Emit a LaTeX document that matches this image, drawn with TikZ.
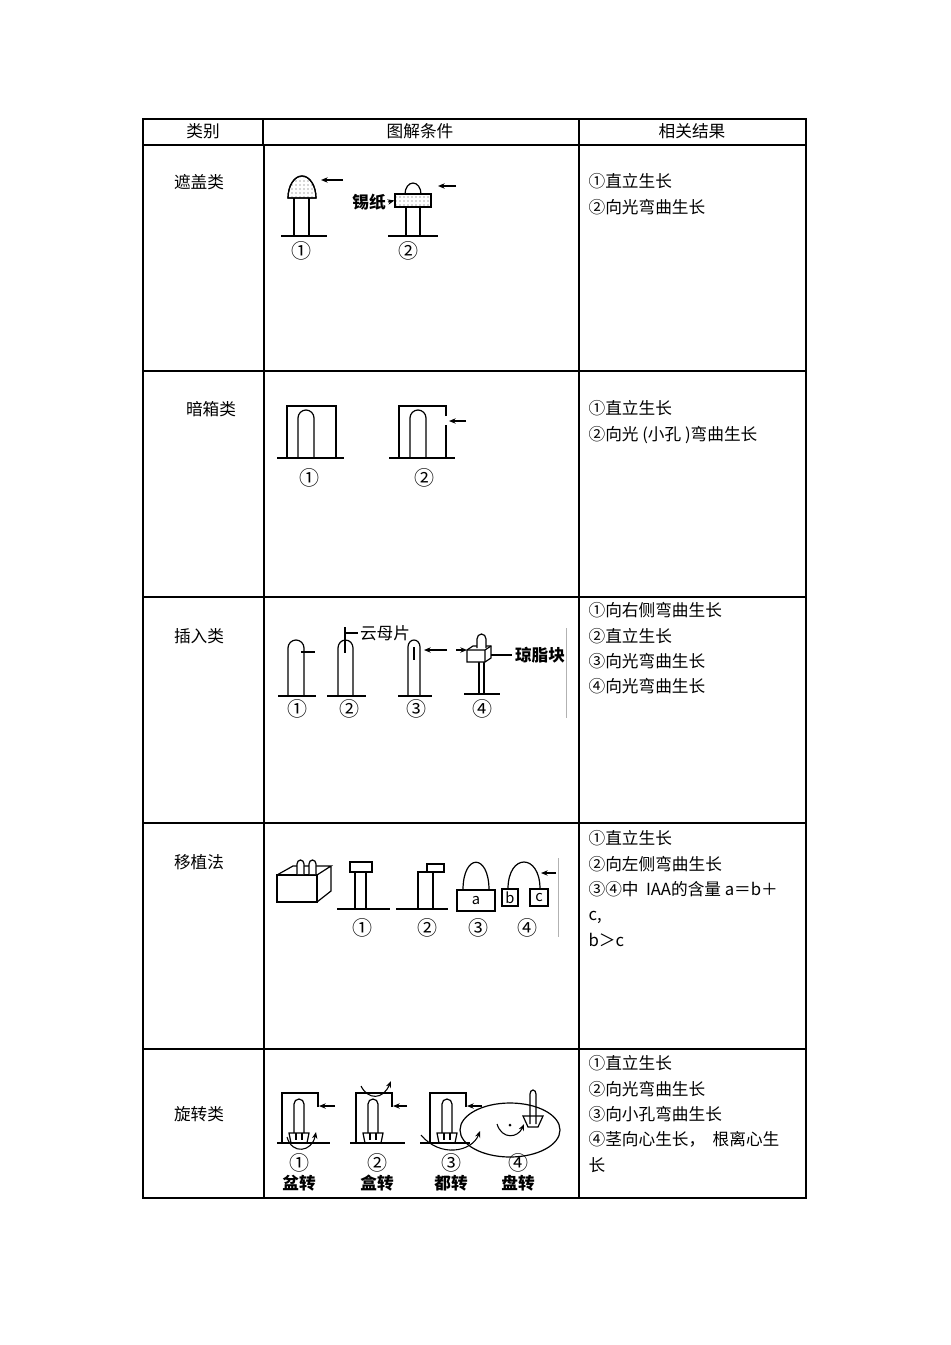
\documentclass[tikz,border=0pt]{standalone}
\usepackage{fontspec}
\setmainfont{Noto Sans CJK SC}
\usetikzlibrary{arrows.meta,patterns}
\begin{document}
\begin{tikzpicture}[x=0.75pt,y=-0.75pt,line width=0.9pt,
  txt/.style={font=\fontsize{12.5}{19}\selectfont,inner sep=0pt},
  lbl/.style={font=\fontsize{15}{15}\selectfont,inner sep=0pt},
  blbl/.style={font=\fontsize{12.5}{15}\selectfont\bfseries,inner sep=0pt},
  res/.style={txt,anchor=west,align=left},
  arr/.style={-{Stealth[length=5pt,width=4pt]},line width=0.8pt},
  dots/.style={pattern=dots,pattern color=black!70},
  grid/.style={line width=0.8pt},
  thick2/.style={line width=1.6pt}]
\useasboundingbox (0,0) rectangle (950,1345);
% table
\draw[grid] (143,119) rectangle (806,1198);
\draw[grid] (143,145) -- (806,145);
\draw[grid] (579,119) -- (579,1198);
\draw[grid] (263,119) -- (263,145);
\draw[thick2] (264,146) -- (264,1198);
\draw[thick2] (143,371) -- (806,371);
\foreach \y in {597,823,1049} \draw[grid] (143,\y) -- (806,\y);
\node[txt] (h1) at (203,131) {类别};
\node[txt] (h2) at (420,131) {图解条件};
\node[txt] (h3) at (692,131) {相关结果};
% categories
\node[txt] (c1) at (199,182) {遮盖类};
\node[txt] (c2) at (211,409) {暗箱类};
\node[txt] (c3) at (199,636) {插入类};
\node[txt] (c4) at (199,862) {移植法};
\node[txt] (c5) at (199,1114) {旋转类};
% results
\node[res,anchor=north west] (r1) at (588,173) {①直立生长\\②向光弯曲生长};
\node[res,anchor=north west] (r2) at (588,400) {①直立生长\\②向光 (小孔 )弯曲生长};
\node[res,anchor=north west] (r3) at (588,602) {①向右侧弯曲生长\\②直立生长\\③向光弯曲生长\\④向光弯曲生长};
\node[res,anchor=north west] (r4) at (588,830) {①直立生长\\②向左侧弯曲生长\\③④中\ \ IAA的含量 a＝b＋\\c,\\b＞c};
\node[res,anchor=north west] (r5) at (588,1055) {①直立生长\\②向光弯曲生长\\③向小孔弯曲生长\\④茎向心生长，\ \ 根离心生\\长};
% ---- row1
\draw (281,236) -- (327,236);
\draw (294,236) -- (294,198) (309,236) -- (309,198);
\draw[dots] (288,198) arc[start angle=180,end angle=360,x radius=14,y radius=22] -- cycle;
\draw (288,198) arc[start angle=180,end angle=360,x radius=14,y radius=22] -- cycle;
\coordinate (a1s) at (343,180); \coordinate (a1e) at (321,180);
\draw[arr] (a1s) -- (a1e);
\node[lbl] (n11) at (301,251) {①};
\draw (388,236) -- (438,236);
\draw (406,236) -- (406,207) (420,236) -- (420,207);
\draw (405,194) arc[start angle=180,end angle=360,x radius=8,y radius=11];
\node[draw,dots,minimum width=27pt,minimum height=9.75pt,inner sep=0pt] (foil) at (413,200.5) {};
\draw (foil.north west) rectangle (foil.south east);
\draw[arr] (456,186) -- (438,186);
\node[blbl] (xz) at (369,202) {锡纸};
\draw[arr] (388,202) -- (foil.west);
\node[lbl] (n12) at (408,251) {②};
% ---- row2
\draw (277,458) -- (344,458);
\draw (287,458) -- (287,406) -- (336,406) -- (336,458);
\draw (298,458) -- (298,418) arc[start angle=180,end angle=360,x radius=8,y radius=8] -- (314,458);
\node[lbl] (n21) at (309,478) {①};
\draw (389,458) -- (455,458);
\draw (446,416) -- (446,406) -- (399,406) -- (399,458);
\draw (446,425) -- (446,458);
\draw (410,458) -- (410,418) arc[start angle=180,end angle=360,x radius=8,y radius=8] -- (426,458);
\draw[arr] (466,421) -- (449,421);
\node[lbl] (n22) at (424,478) {②};
% ---- row3
\draw (278,696) -- (316,696);
\draw (288,696) -- (288,648) arc[start angle=180,end angle=360,x radius=8,y radius=8] -- (304,696);
\draw (301,652) -- (315,652);
\draw (327,696) -- (366,696);
\draw (338,696) -- (338,648) arc[start angle=180,end angle=360,x radius=7.5,y radius=8] -- (353,696);
\draw (345,627) -- (345,653) (345,633) -- (358,633);
\node[txt] (ymp) at (385,633) {云母片};
\draw (398,696) -- (432,696);
\draw (408,696) -- (408,647) arc[start angle=180,end angle=360,x radius=6,y radius=7] -- (420,696);
\draw (414,647) -- (414,660);
\draw[arr] (447,650) -- (424,650);
\draw (464,694) -- (500,694);
\draw (479,694) -- (479,662) (484,694) -- (484,662);
\draw[fill=white] (467,650) -- (473,646) -- (491,646) -- (491,658) -- (485,662) -- (467,662) -- cycle;
\draw (467,650) -- (485,650) -- (491,646) (485,650) -- (485,662);
\draw[fill=white] (477,648) -- (477,639) arc[start angle=180,end angle=360,x radius=4.5,y radius=5] -- (486,648);
\draw[arr] (456,650) -- (467,650);
\draw (491,655) -- (512,655);
\node[blbl] (qzk) at (540,655) {琼脂块};
\draw[black!30,line width=0.6pt] (566,628) -- (566,718);
\node[lbl] (n31) at (297,709) {①};
\node[lbl] (n32) at (349,709) {②};
\node[lbl] (n33) at (416,709) {③};
\node[lbl] (n34) at (482,709) {④};
% ---- row4
\draw (277,875) rectangle (317,902);
\draw (277,875) -- (293,866) -- (331,866) -- (317,875) (331,866) -- (331,891) -- (317,902);
\foreach \sx in {297,309} \draw[fill=white] (\sx,874) -- (\sx,864) arc[start angle=180,end angle=360,x radius=3.5,y radius=4] -- (\sx+7,874);
\draw (337,909) -- (390,909);
\draw (350,862) rectangle (372,872);
\draw (355,909) -- (355,872) (366,909) -- (366,872);
\draw (396,909) -- (448,909);
\draw (418,909) -- (418,872) -- (427,872) (433,872) -- (433,909);
\draw (427,864) rectangle (444,872);
\draw (463,890) .. controls (463,853) and (489,853) .. (489,890);
\node[draw,minimum width=28.5pt,minimum height=15.75pt,inner sep=0pt,font=\fontsize{11}{13}\selectfont] (ba) at (476,900.5) {a};
\draw (508,889) .. controls (508,853) and (540,853) .. (540,889);
\node[draw,minimum width=12pt,minimum height=12.75pt,inner sep=0pt,font=\fontsize{11}{13}\selectfont] (bb) at (510,897.5) {b};
\node[draw,minimum width=13.5pt,minimum height=12.75pt,inner sep=0pt,font=\fontsize{11}{13}\selectfont] (bc) at (539,897.5) {c};
\draw[arr] (556,873) -- (541,873);
\draw[black!30,line width=0.6pt] (558,858) -- (558,937);
\node[lbl] (n41) at (362,928) {①};
\node[lbl] (n42) at (427,928) {②};
\node[lbl] (n43) at (478,928) {③};
\node[lbl] (n44) at (527,928) {④};
% ---- row5
\foreach \bx/\ax in {282/335,356/407,430/482}{
  \draw (\bx+36,1107) -- (\bx+36,1093) -- (\bx,1093) -- (\bx,1143);
  \draw[arr] (\ax,1106) -- (\bx+37,1106);
  \draw (\bx+12,1133) -- (\bx+12,1104) arc[start angle=180,end angle=360,x radius=5,y radius=5] -- (\bx+22,1133);
  \draw (\bx+7,1133) -- (\bx+27,1133) -- (\bx+25,1143) -- (\bx+9,1143) -- cycle;
  \draw (\bx+14,1133) -- (\bx+14,1140) (\bx+20,1133) -- (\bx+20,1140);
}
\draw (277,1143) -- (330,1143);
\draw (350,1143) -- (405,1143);
\draw (420,1143) -- (470,1143);
\draw[arr] (287,1137) .. controls (292,1155) and (312,1152) .. (316,1132);
\draw[arr] (361,1086) .. controls (368,1100) and (383,1100) .. (391,1081);
\draw[arr] (421,1135) .. controls (440,1158) and (472,1152) .. (480,1131);
\draw (510,1130) ellipse[x radius=50,y radius=27];
\fill (510,1125) circle (1.5);
\draw[fill=white] (523,1116) -- (543,1116) -- (538,1127) -- (528,1127) -- cycle;
\draw (530,1124) -- (530,1094) arc[start angle=180,end angle=360,x radius=3,y radius=4] -- (536,1124);
\draw[arr] (497,1124) .. controls (502,1140) and (518,1138) .. (524,1124);
\node[lbl] (n51) at (299,1163) {①};
\node[lbl] (n52) at (377,1163) {②};
\node[lbl] (n53) at (451,1163) {③};
\node[lbl] (n54) at (518,1163) {④};
\node[blbl] (t51) at (299,1183) {盆转};
\node[blbl] (t52) at (377,1183) {盒转};
\node[blbl] (t53) at (451,1183) {都转};
\node[blbl] (t54) at (518,1183) {盘转};
\end{tikzpicture}
\end{document}
